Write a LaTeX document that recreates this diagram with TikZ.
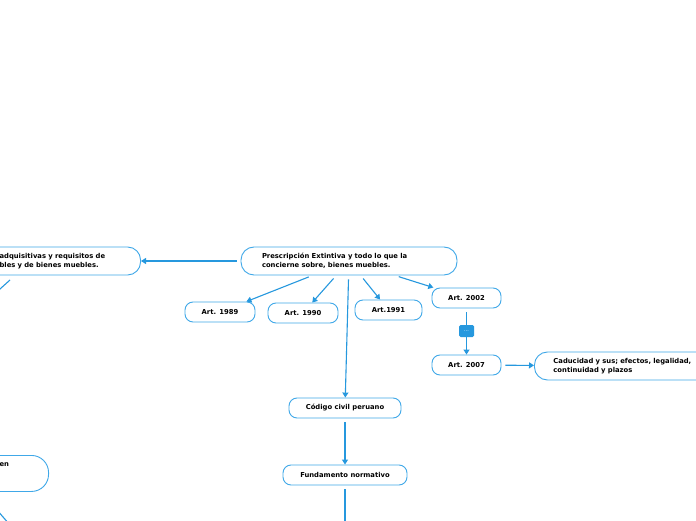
\documentclass[tikz,border=0pt]{standalone}
\usepackage{fontspec}
\newfontfamily\mapfont{DejaVu Sans}
\usetikzlibrary{arrows.meta}
\definecolor{mapline}{RGB}{38,152,222}
\definecolor{mapedge}{RGB}{64,168,232}

\begin{document}
\begin{tikzpicture}[x=1pt,y=1pt,
  topic/.style={draw=mapedge, line width=0.9pt, fill=white, rounded corners=13pt, inner xsep=21pt, inner ysep=6pt, minimum height=28pt, align=left, font=\mapfont\bfseries\fontsize{6.8}{9}\selectfont},
  art/.style={draw=mapedge, line width=0.9pt, fill=white, rounded corners=8pt, minimum height=20pt, inner sep=0pt, font=\mapfont\bfseries\fontsize{6.8}{9}\selectfont},
  link/.style={draw=mapline, line width=1.1pt, shorten <=4pt},
  tip/.style={-{Triangle[length=5pt,width=6pt]}}]

\useasboundingbox (0,0) rectangle (696,520);
\fill[white] (0,0) rectangle (696,520);
\clip (0,0) rectangle (696,520);

% main topics
\node[topic, text width=174pt] (presc) at (349,259) {Prescripción Extintiva y todo lo que la\\concierne sobre, bienes muebles.};
\node[topic, text width=120pt, anchor=east] (adqui) at (141,259) {adquisitivas y requisitos de\\bles y de bienes muebles.};
\node[topic, text width=28pt, anchor=north east, minimum height=36pt, rounded corners=17pt] (blbox) at (49,65) {en\\\mbox{}\\\mbox{}};
\node[topic, text width=160pt, anchor=west, inner xsep=19pt] (caduc) at (534,154) {Caducidad y sus; efectos, legalidad,\\continuidad y plazos};

% articles
\node[art, minimum width=70pt] (a1989) at (220,208) {Art. 1989};
\node[art, minimum width=70pt] (a1990) at (303,207) {Art. 1990};
\node[art, minimum width=67pt] (a1991) at (388.5,210) {Art.1991};
\node[art, minimum width=69pt] (a2002) at (466.5,222) {Art. 2002};
\node[fill=mapline, rounded corners=1.5pt, minimum width=15pt, minimum height=12pt, inner sep=0pt, text=white, font=\mapfont\fontsize{5}{6}\selectfont] (dots) at (466.5,189) {...};
\node[art, minimum width=69pt] (a2007) at (466.5,155) {Art. 2007};
\node[art, minimum width=112pt] (codigo) at (345,112) {Código civil peruano};
\node[art, minimum width=124pt] (fundam) at (345,45) {Fundamento normativo};

% loose ends leaving the picture
\coordinate (adquiout) at (10,240);
\coordinate (adquiend) at (-20,213);
\coordinate (blout) at (-10,18);
\coordinate (blend) at (10,-5);
\coordinate (fundend) at (345,-10);

\draw[link,tip] (presc) -- (adqui);
\draw[link,tip] (presc) -- (a1989);
\draw[link,tip] (presc) -- (a1990);
\draw[link,tip] (presc) -- (codigo);
\draw[link,tip] (presc) -- (a1991);
\draw[link,tip] (presc) -- (a2002);
\draw[link] (a2002) -- (dots);
\draw[link,tip,shorten <=0pt] (dots) -- (a2007);
\draw[link,tip] (a2007) -- (caduc);
\draw[link,tip] (codigo) -- (fundam);
\draw[link] (fundam) -- (fundend);
\draw[link,shorten <=0pt] (adquiout) -- (adquiend);
\draw[link,shorten <=0pt] (blout) -- (blend);

\end{tikzpicture}
\end{document}
